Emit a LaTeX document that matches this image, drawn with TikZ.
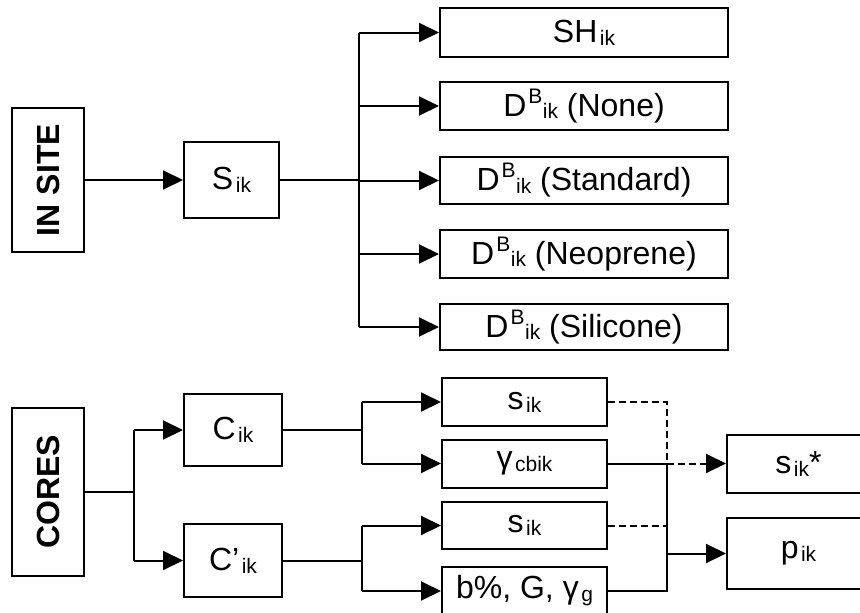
\documentclass[tikz,border=0pt]{standalone}
\usepackage{fontspec}
\setmainfont{Liberation Sans}
\usetikzlibrary{arrows.meta}
\newcommand\lo[1]{\hspace{2.5pt}\raisebox{-3pt}{\fontsize{21}{21}\selectfont #1}}
\newcommand\DB{D\hspace{2pt}\raisebox{13pt}{\fontsize{21}{21}\selectfont B}\hspace{0.5pt}\raisebox{-2.5pt}{\fontsize{21}{21}\selectfont ik}}
\begin{document}
\begin{tikzpicture}[x=1pt,y=-1pt,
  box/.style={draw, line width=2pt, inner sep=0pt, font=\fontsize{32}{38}\selectfont},
  ln/.style={line width=2pt},
  arr/.style={ln, -{Triangle[length=20pt,width=19pt]}},
  dsh/.style={dash pattern=on 7pt off 4pt}]
\useasboundingbox (0,0) rectangle (860,613);
% upper part
\node[box, minimum width=72, minimum height=144] (insite) at (48,180) {\rotatebox{90}{\bfseries IN SITE}};
\node[box, minimum width=95, minimum height=76] (sik) at (231.5,180) {S\lo{ik}};
\node[box, minimum width=288, minimum height=49] (sh) at (584,32.5) {SH\lo{ik}};
\node[box, minimum width=288, minimum height=48] (none) at (584,106) {\DB{} (None)};
\node[box, minimum width=288, minimum height=47] (std) at (584,180.5) {\DB{} (Standard)};
\node[box, minimum width=288, minimum height=48] (neo) at (584,254) {\DB{} (Neoprene)};
\node[box, minimum width=288, minimum height=46] (sil) at (584,327) {\DB{} (Silicone)};
\coordinate (b1) at (359,180);
\draw[arr] (insite.east) -- (sik.west);
\draw[line width=2.8pt] (sik.east) -- (b1);
\draw[ln] (b1 |- sh.west) -- (b1 |- sil.west);
\foreach \n in {sh,none,std,neo,sil} \draw[arr] (b1 |- \n.west) -- (\n.west);
% lower part
\node[box, minimum width=72, minimum height=168] (cores) at (48,492) {\rotatebox{90}{\bfseries CORES}};
\node[box, minimum width=98, minimum height=72] (cik) at (233,430) {C\lo{ik}};
\node[box, minimum width=98, minimum height=73] (cpik) at (233,560.5) {C’\lo{ik}};
\node[box, minimum width=165, minimum height=48] (s1) at (524.5,402) {s\lo{ik}};
\node[box, minimum width=165, minimum height=48] (gam) at (524.5,463.5) {γ\lo{cbik}};
\node[box, minimum width=165, minimum height=47] (s2) at (524.5,525.5) {s\lo{ik}};
\node[box, minimum width=165, minimum height=48] (bg) at (524.5,591) {b\%, G, γ\lo{g}};
\node[box, minimum width=143, minimum height=58] (sstar) at (798.5,463.5) {s\lo{ik}*};
\node[box, minimum width=143, minimum height=71] (pik) at (798.5,553.5) {p\lo{ik}};
\coordinate (b2) at (134,492);
\coordinate (b3) at (362,0);
\coordinate (m) at (667,0);
\draw[ln] (cores.east) -- (b2);
\draw[ln] (b2 |- cik.west) -- (b2 |- cpik.west);
\draw[arr] (b2 |- cik.west) -- (cik.west);
\draw[arr] (b2 |- cpik.west) -- (cpik.west);
\draw[ln] (cik.east) -- (b3 |- cik.east);
\draw[ln] (b3 |- s1.west) -- (b3 |- gam.west);
\draw[arr] (b3 |- s1.west) -- (s1.west);
\draw[arr] (b3 |- gam.west) -- (gam.west);
\draw[ln] (cpik.east) -- (b3 |- cpik.east);
\draw[ln] (b3 |- s2.west) -- (b3 |- bg.west);
\draw[arr] (b3 |- s2.west) -- (s2.west);
\draw[arr] (b3 |- bg.west) -- (bg.west);
% merging
\draw[ln] (gam.east) -- (m |- gam.east) -- (m |- bg.east) -- (bg.east);
\draw[ln, dsh] (s1.east) -- (m |- s1.east) -- (m |- sstar.west);
\draw[arr, dsh] (m |- sstar.west) -- (sstar.west);
\draw[ln, dsh] (s2.east) -- (m |- s2.east);
\draw[arr] (m |- pik.west) -- (pik.west);
\end{tikzpicture}
\end{document}
